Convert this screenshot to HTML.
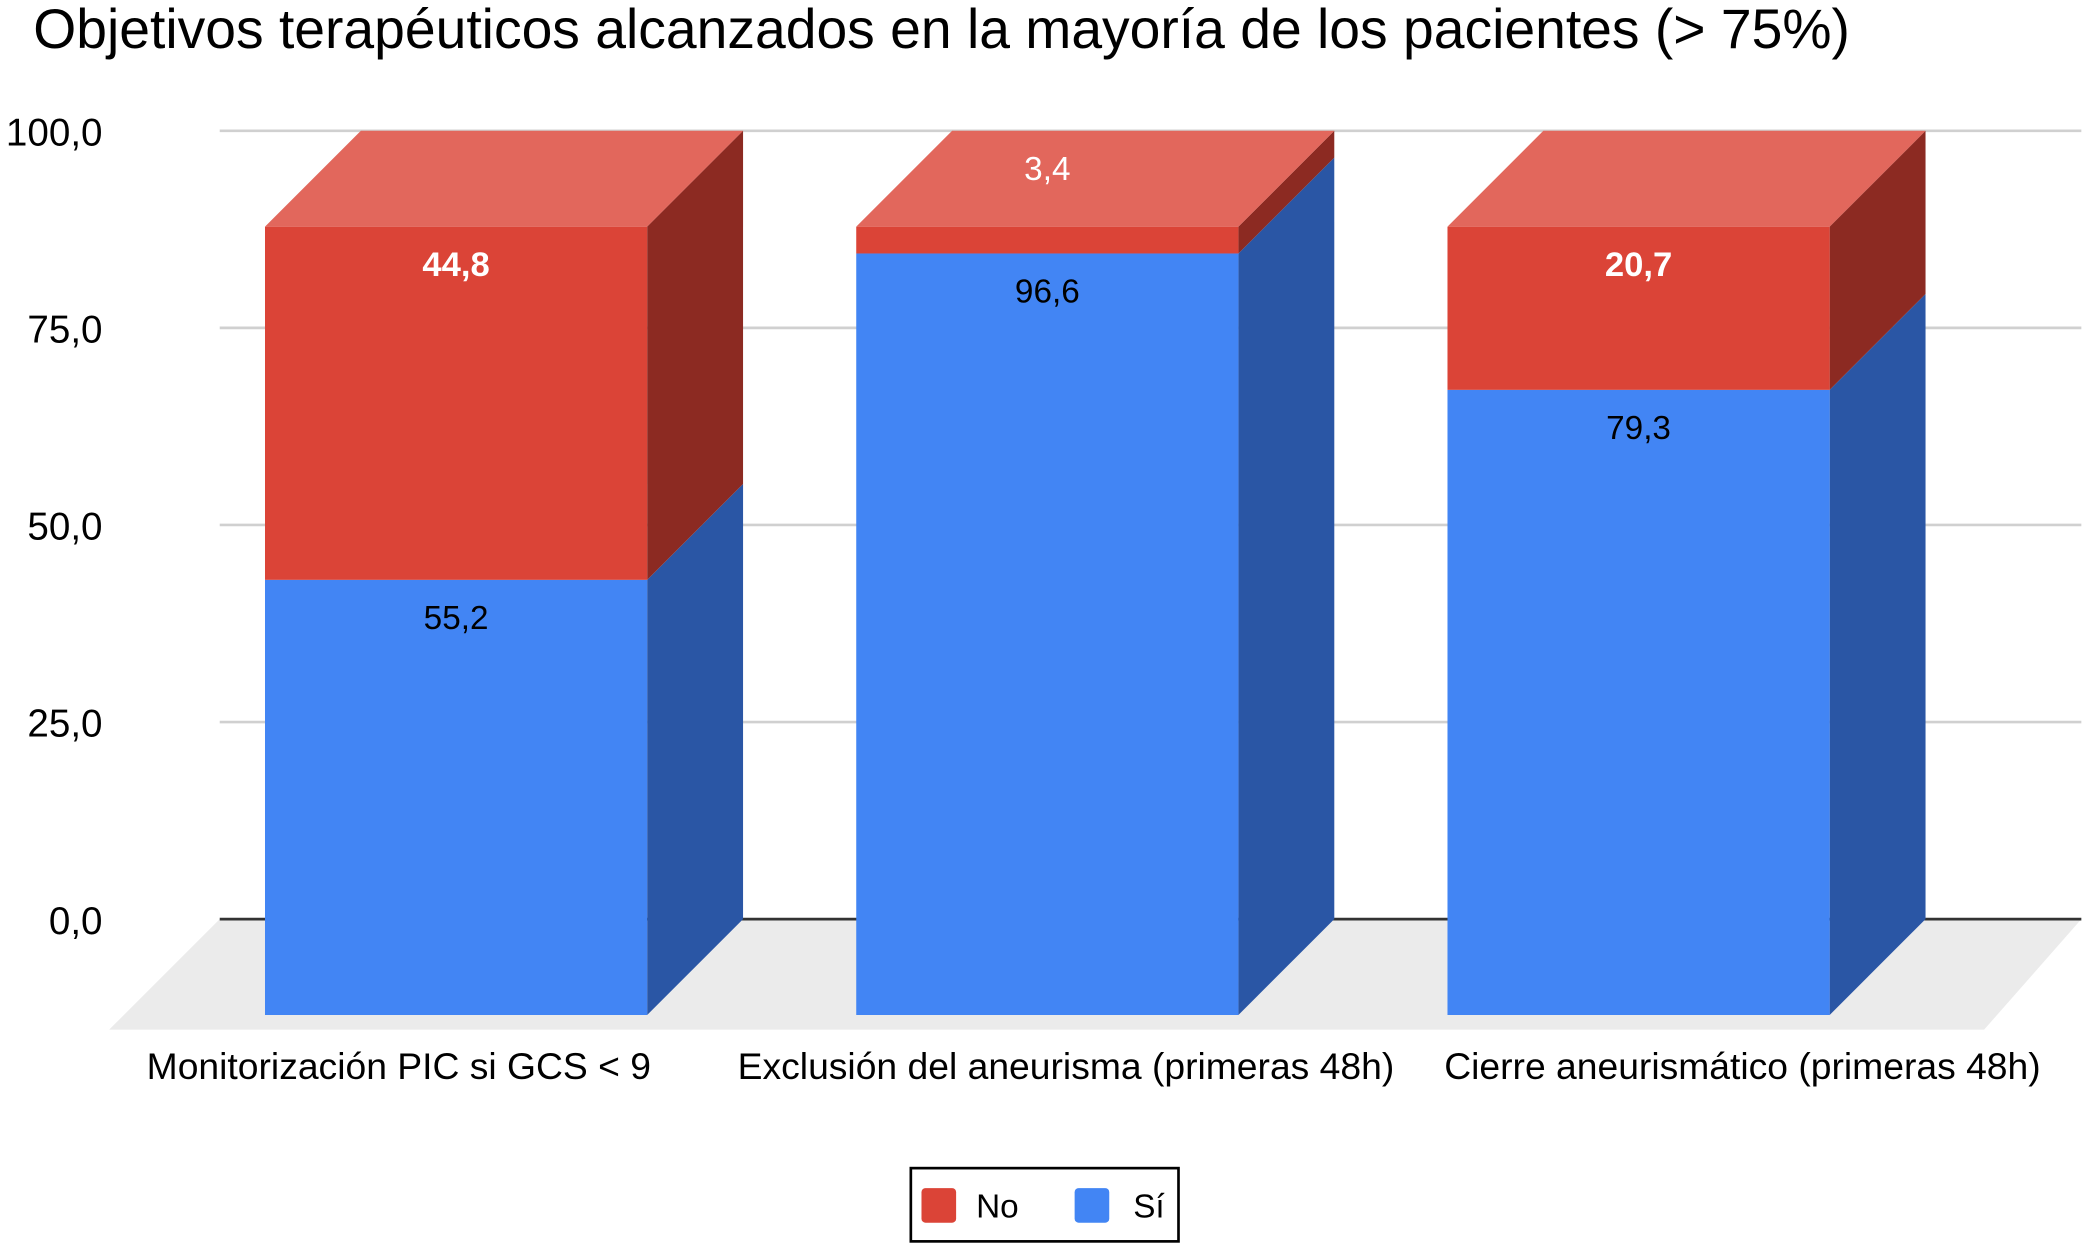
<!DOCTYPE html>
<html><head><meta charset="utf-8"><style>
html,body{margin:0;padding:0;background:#fff;}
svg{display:block;font-family:"Liberation Sans",Arial,sans-serif;}
</style></head><body>
<svg id="chart" width="2088" height="1243" viewBox="0 0 1568 933" xmlns="http://www.w3.org/2000/svg">
<text x="25" y="36" font-size="41.5" fill="#000">Objetivos terapéuticos alcanzados en la mayoría de los pacientes (&gt; 75%)</text>
<polygon points="165,690 1563,690 1490,773 82,773" fill="#ebebeb"/>
<g id="grid"></g>
<g id="bars"></g>
<g>
<rect x="684" y="877" width="201" height="55" fill="#fff" stroke="#000" stroke-width="2"/>
<rect x="692" y="892" width="26" height="26" rx="3" fill="#db4437"/>
<text x="733" y="914" font-size="25">No</text>
<rect x="807" y="892" width="26" height="26" rx="3" fill="#4285f4"/>
<text x="851" y="914" font-size="25">Sí</text>
</g>
</svg>
<script>
const categories = ["Monitorización PIC si GCS < 9","Exclusión del aneurisma (primeras 48h)","Cierre aneurismático (primeras 48h)"];
const siValues = [55.2, 96.6, 79.3];
const noValues = [44.8, 3.4, 20.7];
const yTicks = [0, 25, 50, 75, 100];
const yTickLabels = ["0,0","25,0","50,0","75,0","100,0"];

const NS = "http://www.w3.org/2000/svg";
const grid = document.getElementById('grid');
const bars = document.getElementById('bars');
const D = 72, unit = 5.92, base = 690;
const yBack = v => base - v * unit;
const yFront = v => base + D - v * unit;
const barX = i => 199 + i * 444;
const barW = 287;
const labelShift = [-43, 14, 78];
function mk(tag, attrs, parent){const e=document.createElementNS(NS,tag);for(const k in attrs)e.setAttribute(k,attrs[k]);parent.appendChild(e);return e;}

yTicks.forEach((t,i)=>{
  const l = mk('line',{x1:165,x2:1563,y1:yBack(t),y2:yBack(t),stroke:t===0?'#333':'#d0d0d0','stroke-width':2},grid);
  
  
  const tx = mk('text',{x:77,y:yBack(t)+11,'font-size':29,'text-anchor':'end',fill:'#000'},grid);
  tx.textContent = yTickLabels[i];
  
  
});

categories.forEach((c,i)=>{
  const x0 = barX(i), x1 = x0 + barW;
  const s = siValues[i], n = noValues[i], tot = s + n;
  const g = mk('g',{},bars);
  
  
  const sSide = mk('polygon',{points:`${x1},${yFront(0)} ${x1+D},${yBack(0)} ${x1+D},${yBack(s)} ${x1},${yFront(s)}`,fill:'#2a56a5'},g);
  
  
  const nSide = mk('polygon',{points:`${x1},${yFront(s)} ${x1+D},${yBack(s)} ${x1+D},${yBack(tot)} ${x1},${yFront(tot)}`,fill:'#8c2a22'},g);
  
  
  const top = mk('polygon',{points:`${x0},${yFront(tot)} ${x1},${yFront(tot)} ${x1+D},${yBack(tot)} ${x0+D},${yBack(tot)}`,fill:'#e2675c'},g);
  
  
  const sF = mk('rect',{x:x0,y:yFront(s),width:barW,height:s*unit,fill:'#4285f4'},g);
  
  
  const nF = mk('rect',{x:x0,y:yFront(tot),width:barW,height:n*unit,fill:'#db4437'},g);
  
  
  const sl = mk('text',{x:x0+barW/2,y:yFront(s)+37,'font-size':25,'text-anchor':'middle',fill:'#000'},g);
  sl.textContent = s.toFixed(1).replace('.',',');
  
  
  const small = n*unit < 40;
  const nl = mk('text',{x:x0+barW/2,y:small?yBack(tot)+37:yFront(tot)+37,'font-size':small?25:26,'text-anchor':'middle',fill:'#fff','font-weight':small?'normal':'bold'},g);
  nl.textContent = n.toFixed(1).replace('.',',');
  
  
  const cl = mk('text',{x:x0+barW/2+labelShift[i],y:810,'font-size':28,'text-anchor':'middle',fill:'#000'},g);
  cl.textContent = c;
  
  
});
</script>
</body></html>
